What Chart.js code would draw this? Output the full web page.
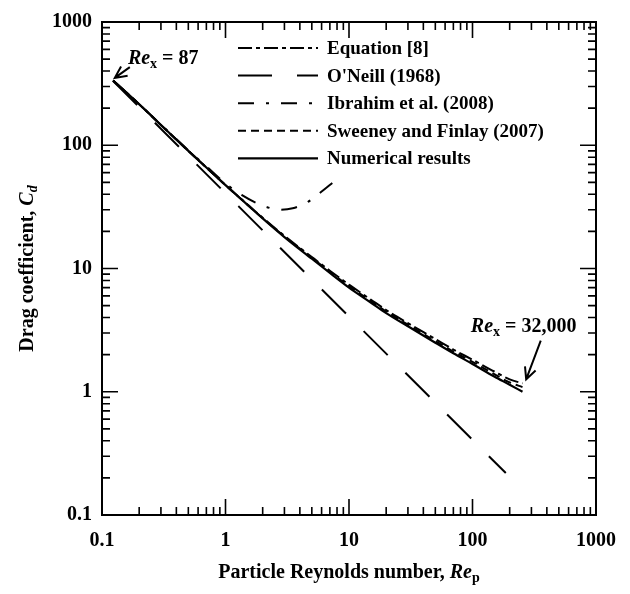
<!DOCTYPE html>
<html>
<head>
<meta charset="utf-8">
<script src="https://cdn.jsdelivr.net/npm/chart.js@4.4.1/dist/chart.umd.min.js"></script>
<style>
  html, body { margin: 0; padding: 0; background: #fff; }
</style>
</head>
<body>
<canvas id="chart" width="630" height="594"></canvas>
<script>
// Particle Reynolds number (x) and drag coefficient (y)
const reNum = [0.123, 0.2, 0.3, 0.5, 0.7, 1, 1.5, 2, 3, 5, 7, 10, 15, 20, 30, 50, 70, 100, 150, 200, 254];
const cdNum = [335, 215, 146, 90, 66, 47.5, 33, 25.5, 18, 12, 9.2, 7.0, 5.3, 4.35, 3.4, 2.5, 2.05, 1.68, 1.33, 1.14, 1.0];

const reEq8 = reNum;
const cdEq8 = [335, 215, 146, 90, 66, 47.5, 33.2, 25.8, 18.4, 12.4, 9.6, 7.4, 5.6, 4.6, 3.6, 2.68, 2.2, 1.82, 1.46, 1.26, 1.17];

const reSweeney = reNum;
const cdSweeney = [335, 215, 146, 90, 66, 47.5, 33, 25.6, 18.2, 12.2, 9.4, 7.2, 5.45, 4.48, 3.5, 2.58, 2.12, 1.75, 1.39, 1.19, 1.09];

const reIbrahim = [0.123, 0.2, 0.3, 0.5, 0.7, 1, 1.35, 1.78, 2.2, 2.74, 3.5, 4.5, 5.8, 7.6];
const cdIbrahim = [335, 216, 147, 91, 67.5, 49, 39.5, 34, 31.3, 30, 30.8, 34, 41, 51];

const reOneill = [0.123, 186];
const cdOneill = [332, 0.219];

const tickLabels = [0.1, 1, 10, 100, 1000];

// annotation anchors, in data units
const noteLow = { text: '87', textAt: [0.162, 460], from: [0.168, 430], to: [0.127, 352] };
const noteHigh = { text: '32,000', textAt: [97, 3.05], from: [357, 2.6], to: [272, 1.26] };

const SERIF = '"Liberation Serif", "Times New Roman", serif';

const toPoints = (xs, ys) => xs.map((x, i) => ({ x: x, y: ys[i] }));

const series = [
  { label: 'Equation [8]', xs: reEq8, ys: cdEq8, dash: [14, 4, 4, 4], width: 2 },
  { label: "O'Neill (1968)", xs: reOneill, ys: cdOneill, dash: [34, 25], width: 2 },
  { label: 'Ibrahim et al. (2008)', xs: reIbrahim, ys: cdIbrahim, dash: [16, 12, 3, 12], width: 2 },
  { label: 'Sweeney and Finlay (2007)', xs: reSweeney, ys: cdSweeney, dash: [8, 5], width: 2 },
  { label: 'Numerical results', xs: reNum, ys: cdNum, dash: [], width: 2.2 }
];

// draw a run of text pieces with mixed fonts, left to right
function drawRich(ctx, parts, x, y) {
  let cx = x;
  parts.forEach(p => {
    ctx.font = p.font;
    ctx.fillText(p.t, cx, y + (p.dy || 0));
    cx += ctx.measureText(p.t).width;
  });
  return cx - x;
}

function richWidth(ctx, parts) {
  let w = 0;
  parts.forEach(p => { ctx.font = p.font; w += ctx.measureText(p.t).width; });
  return w;
}

function arrow(ctx, x1, y1, x2, y2) {
  ctx.beginPath();
  ctx.moveTo(x1, y1);
  ctx.lineTo(x2, y2);
  const a = Math.atan2(y2 - y1, x2 - x1);
  const L = 13, s = 0.45;
  ctx.moveTo(x2 - L * Math.cos(a - s), y2 - L * Math.sin(a - s));
  ctx.lineTo(x2, y2);
  ctx.lineTo(x2 - L * Math.cos(a + s), y2 - L * Math.sin(a + s));
  ctx.stroke();
}

const decorPlugin = {
  id: 'decor',
  afterDraw(chart) {
    const ctx = chart.ctx;
    const xs = chart.scales.x, ys = chart.scales.y;
    const area = chart.chartArea;
    ctx.save();
    ctx.strokeStyle = '#000';
    ctx.fillStyle = '#000';
    ctx.setLineDash([]);

    // frame
    ctx.lineWidth = 2;
    ctx.strokeRect(area.left, area.top, area.right - area.left, area.bottom - area.top);

    // inward ticks on all four sides
    ctx.lineWidth = 1.6;
    ctx.beginPath();
    for (let e = -1; e <= 3; e++) {
      for (let k = 1; k <= 9; k++) {
        const v = k * Math.pow(10, e);
        if (v > 1000.0001) continue;
        const len = k === 1 ? 16 : 8;
        const px = xs.getPixelForValue(v);
        ctx.moveTo(px, area.bottom); ctx.lineTo(px, area.bottom - len);
        ctx.moveTo(px, area.top); ctx.lineTo(px, area.top + len);
        const py = ys.getPixelForValue(v);
        ctx.moveTo(area.left, py); ctx.lineTo(area.left + len, py);
        ctx.moveTo(area.right, py); ctx.lineTo(area.right - len, py);
      }
    }
    ctx.stroke();

    // legend
    ctx.textBaseline = 'middle';
    ctx.textAlign = 'left';
    series.forEach((s, i) => {
      const y = 48 + i * 27.6;
      ctx.lineWidth = s.width;
      ctx.setLineDash(s.dash);
      ctx.beginPath();
      ctx.moveTo(238, y);
      ctx.lineTo(318, y);
      ctx.stroke();
      ctx.setLineDash([]);
      ctx.font = 'bold 19px ' + SERIF;
      ctx.fillText(s.label, 327, y + 1);
    });

    // annotations
    ctx.textBaseline = 'alphabetic';
    ctx.lineWidth = 2;
    [noteLow, noteHigh].forEach(n => {
      const parts = [
        { t: 'Re', font: 'italic bold 20px ' + SERIF },
        { t: 'x', font: 'bold 14px ' + SERIF, dy: 4 },
        { t: ' = ' + n.text, font: 'bold 20px ' + SERIF }
      ];
      drawRich(ctx, parts, xs.getPixelForValue(n.textAt[0]), ys.getPixelForValue(n.textAt[1]));
      arrow(ctx, xs.getPixelForValue(n.from[0]), ys.getPixelForValue(n.from[1]),
        xs.getPixelForValue(n.to[0]), ys.getPixelForValue(n.to[1]));
    });

    // x axis title
    const xt = [
      { t: 'Particle Reynolds number, ', font: 'bold 20px ' + SERIF },
      { t: 'Re', font: 'italic bold 20px ' + SERIF },
      { t: 'p', font: 'bold 14px ' + SERIF, dy: 4 }
    ];
    const xcx = (area.left + area.right) / 2;
    drawRich(ctx, xt, xcx - richWidth(ctx, xt) / 2, 578);

    // y axis title (rotated)
    const yt = [
      { t: 'Drag coefficient, ', font: 'bold 20px ' + SERIF },
      { t: 'C', font: 'italic bold 20px ' + SERIF },
      { t: 'd', font: 'italic bold 14px ' + SERIF, dy: 4 }
    ];
    const ycy = (area.top + area.bottom) / 2;
    ctx.translate(33, ycy);
    ctx.rotate(-Math.PI / 2);
    drawRich(ctx, yt, -richWidth(ctx, yt) / 2, 0);
    ctx.restore();
  }
};

const isLabelTick = (v) => tickLabels.some(t => Math.abs(v - t) / t < 1e-6);

const tickCfg = {
  autoSkip: false,
  maxRotation: 0,
  minRotation: 0,
  color: '#000',
  font: { family: SERIF, size: 20, weight: 'bold' },
  callback: (v) => isLabelTick(v) ? String(v) : ''
};

new Chart(document.getElementById('chart'), {
  type: 'scatter',
  data: {
    datasets: series.map(s => ({
      label: s.label,
      data: toPoints(s.xs, s.ys),
      showLine: true,
      borderColor: '#000',
      backgroundColor: '#000',
      borderWidth: s.width,
      borderDash: s.dash,
      pointRadius: 0,
      cubicInterpolationMode: 'monotone'
    }))
  },
  options: {
    responsive: false,
    animation: false,
    layout: { padding: { top: 16, right: 33, left: 0, bottom: 0 } },
    plugins: {
      legend: { display: false },
      tooltip: { enabled: false }
    },
    scales: {
      x: {
        type: 'logarithmic',
        min: 0.1,
        max: 1000,
        grid: { display: false, drawTicks: false },
        border: { display: false },
        ticks: Object.assign({}, tickCfg, { padding: 14 }),
        afterFit: (scale) => { scale.height = 79; }
      },
      y: {
        type: 'logarithmic',
        min: 0.1,
        max: 1000,
        grid: { display: false, drawTicks: false },
        border: { display: false },
        ticks: Object.assign({}, tickCfg, { padding: 10 }),
        afterFit: (scale) => { scale.width = 102; }
      }
    }
  },
  plugins: [decorPlugin]
});
</script>
</body>
</html>
